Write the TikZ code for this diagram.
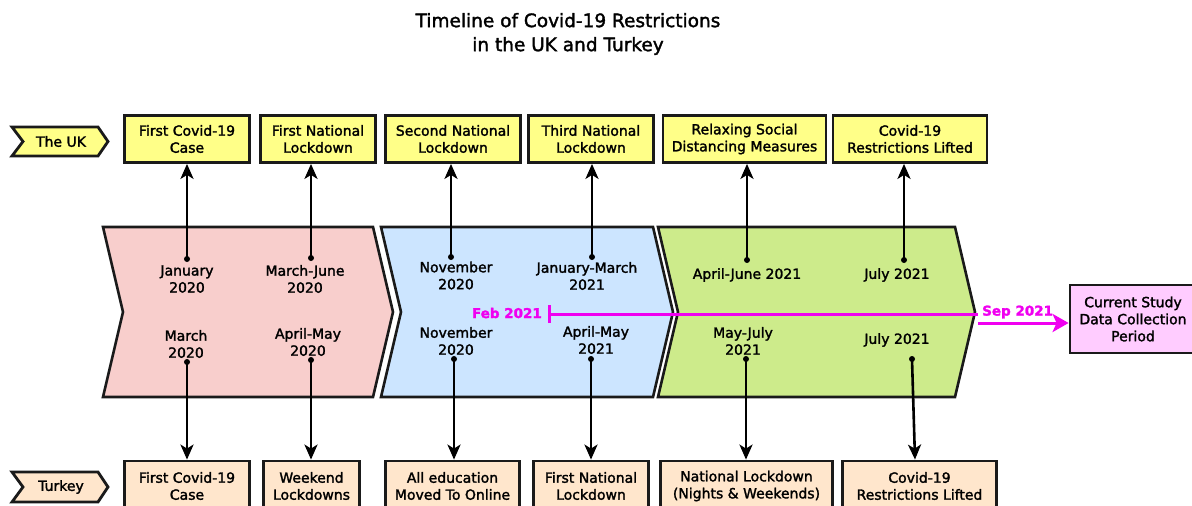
\documentclass[tikz,border=0pt]{standalone}
\usepackage{fontspec}
\setmainfont{DejaVu Sans}[RawFeature={embolden=1.8}]
\usetikzlibrary{arrows.meta}
\definecolor{ukfill}{HTML}{FFFF88}
\definecolor{trfill}{HTML}{FFE6CC}
\definecolor{pinkc}{HTML}{F8CECC}
\definecolor{bluec}{HTML}{CCE5FF}
\definecolor{greenc}{HTML}{CDEB8B}
\definecolor{studyc}{HTML}{FFCCFF}
\definecolor{mag}{HTML}{F000F0}
\definecolor{edge}{HTML}{1A1A1A}
\begin{document}
\begin{tikzpicture}[x=1pt,y=-1pt,
  txt/.style={font=\fontsize{14}{17}\selectfont, align=center, inner sep=0pt, text=black},
  ukbox/.style={txt, draw=edge, line width=2.8pt, fill=ukfill, minimum height=47pt},
  trbox/.style={txt, draw=edge, line width=2.8pt, fill=trfill, minimum height=50pt},
  band/.style={draw=edge, line width=2.6pt},
  tag/.style={draw=edge, line width=2.8pt},
  arr/.style={draw=black, line width=2.6pt, -{Stealth[length=15pt,width=13pt,inset=4pt]}},
  dot/.style={fill=black},
  magline/.style={draw=mag, line width=3pt},
  magtxt/.style={txt, text=mag, font=\fontsize{13.5}{17}\selectfont\bfseries}
]
\useasboundingbox (0,0) rectangle (1192,506);

% title
\node[txt, font=\fontsize{18.5}{24}\selectfont] (title) at (568,34) {Timeline of Covid-19 Restrictions\\in the UK and Turkey};

% bands
\path[band, fill=pinkc] (103,227) -- (373,227) -- (393,312) -- (373,397) -- (103,397) -- (123,312) -- cycle;
\path[band, fill=bluec] (381,227) -- (653,227) -- (673,312) -- (653,397) -- (381,397) -- (401,312) -- cycle;
\path[band, fill=greenc] (658,227) -- (955,227) -- (975,312) -- (955,397) -- (658,397) -- (678,312) -- cycle;

% row tags
\path[tag, fill=ukfill] (12,127) -- (98,127) -- (108,141.5) -- (98,156) -- (12,156) -- (23,141.5) -- cycle;
\node[txt] (uktag) at (61,141.5) {The UK};
\path[tag, fill=trfill] (12,472) -- (98,472) -- (108,487) -- (98,502) -- (12,502) -- (23,487) -- cycle;
\node[txt] (trtag) at (61,487) {Turkey};

% UK boxes
\node[ukbox, minimum width=125pt] (u1) at (187,139) {First Covid-19\\Case};
\node[ukbox, minimum width=115pt] (u2) at (318,139) {First National\\Lockdown};
\node[ukbox, minimum width=135pt] (u3) at (453,139) {Second National\\Lockdown};
\node[ukbox, minimum width=125pt] (u4) at (591,139) {Third National\\Lockdown};
\node[ukbox, minimum width=163pt] (u5) at (744.5,139) {Relaxing Social\\Distancing Measures};
\node[ukbox, minimum width=154pt] (u6) at (910,139) {Covid-19\\Restrictions Lifted};

% Turkey boxes
\node[trbox, minimum width=125pt] (t1) at (187,486) {First Covid-19\\Case};
\node[trbox, minimum width=96pt] (t2) at (311.5,486) {Weekend\\Lockdowns};
\node[trbox, minimum width=134pt] (t3) at (452.5,486) {All education\\Moved To Online};
\node[trbox, minimum width=115pt] (t4) at (591,486) {First National\\Lockdown};
\node[trbox, minimum width=172pt] (t5) at (746.5,486) {National Lockdown\\(Nights \& Weekends)};
\node[trbox, minimum width=154pt] (t6) at (919.5,486) {Covid-19\\Restrictions Lifted};

% UK dates
\node[txt] (ud1) at (187,279) {January\\2020};
\node[txt] (ud2) at (305,279) {March-June\\2020};
\node[txt] (ud3) at (456,275.5) {November\\2020};
\node[txt] (ud4) at (587,276) {January-March\\2021};
\node[txt] (ud5) at (747,275) {April-June 2021};
\node[txt] (ud6) at (897,275) {July 2021};

% Turkey dates
\node[txt] (td1) at (186,344) {March\\2020};
\node[txt] (td2) at (308,342) {April-May\\2020};
\node[txt] (td3) at (456,341) {November\\2020};
\node[txt] (td4) at (596,340) {April-May\\2021};
\node[txt] (td5) at (743,341) {May-July\\2021};
\node[txt] (td6) at (897,340) {July 2021};

% dot coordinates
\coordinate (pu1) at (187,259);
\coordinate (pu2) at (311,258);
\coordinate (pu3) at (451,257);
\coordinate (pu4) at (592,257);
\coordinate (pu5) at (747,260);
\coordinate (pu6) at (904,260);
\coordinate (pt1) at (187,362);
\coordinate (pt2) at (311,360);
\coordinate (pt3) at (454,359);
\coordinate (pt4) at (591,359);
\coordinate (pt5) at (746,359);
\coordinate (pt6) at (912,359);

\foreach \i in {1,...,6}{
  \fill[dot] (pu\i) circle (3pt);
  \draw[arr] (pu\i) -- (pu\i |- u\i.south);
  \fill[dot] (pt\i) circle (3pt);
}
\foreach \i in {1,...,5}{
  \draw[arr] (pt\i) -- (pt\i |- t\i.north);
}
\draw[arr] (pt6) -- (t6.north -| 915,0);

% study period
\node[txt, draw=edge, line width=2.8pt, fill=studyc, minimum width=126pt, minimum height=68pt] (study) at (1133,319) {Current Study\\Data Collection\\Period};
\coordinate (feb) at (549,314);
\coordinate (sep) at (978,314);
\coordinate (sepb) at (978,323);
\draw[magline] ([yshift=-9pt]feb) -- ([yshift=9pt]feb);
\draw[magline] (feb) -- (sep);
\draw[magline] ([yshift=-9pt]sep) -- (sepb);
\draw[magline, -{Stealth[length=16pt,width=18pt,inset=4pt]}] (sepb) -- (sepb -| study.west);
\node[magtxt, anchor=east] (feblab) at (542,313) {Feb 2021};
\node[magtxt, anchor=west] (seplab) at (982,312) {Sep 2021};
\end{tikzpicture}
\end{document}
